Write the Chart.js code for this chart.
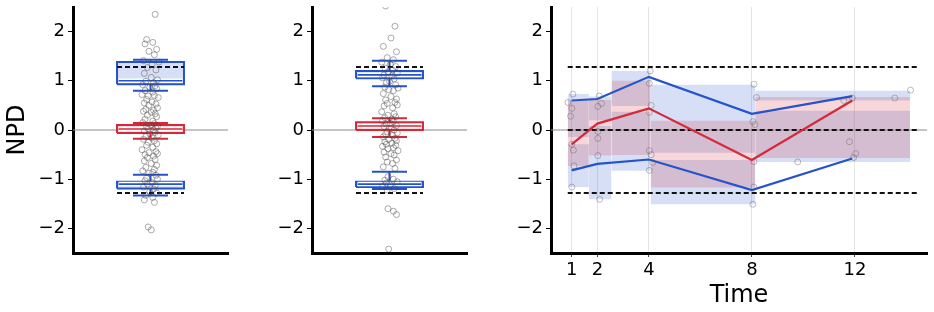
<!DOCTYPE html>
<html><head><meta charset="utf-8">
<script src="https://cdn.jsdelivr.net/npm/chart.js@4.4.1/dist/chart.umd.min.js"></script>
<style>
html,body{margin:0;padding:0;background:#fff;}
#wrap{position:relative;width:934px;height:312px;overflow:hidden;}
canvas{position:absolute;left:0;top:0;}
</style></head><body>
<div id="wrap">
<canvas id="c1" width="934" height="312"></canvas>
<canvas id="c2" width="934" height="312"></canvas>
<canvas id="c3" width="934" height="312"></canvas>
</div>
<script>
// ---------- data ----------
const yTicks = [-2, -1, 0, 1, 2];
const timeTicks = [1, 2, 4, 8, 12];
const refLevels = [-1.28, 0, 1.28];

// box stats: [lower whisker, q1, median, q3, upper whisker]
const p1UpperBox  = [0.80, 0.93, 1.00, 1.38, 1.43];
const p1MedianBox = [-0.18, -0.06, 0.02, 0.10, 0.14];
const p1LowerBox  = [-1.33, -1.19, -1.10, -1.05, -0.91];
const p2UpperBox  = [0.89, 1.05, 1.12, 1.20, 1.41];
const p2MedianBox = [-0.14, 0.00, 0.08, 0.16, 0.24];
const p2LowerBox  = [-1.20, -1.16, -1.10, -1.05, -0.85];

const p1PointY = [2.35,1.84,1.78,1.75,1.64,1.60,1.53,1.41,1.38,1.33,
  1.27,1.22,1.15,1.07,1.02,0.99,0.96,0.92,0.90,0.87,
  0.84,0.80,0.77,0.72,0.70,0.69,0.66,0.62,0.57,0.55,
  0.53,0.50,0.45,0.42,0.40,0.38,0.36,0.33,0.30,0.27,
  0.22,0.18,0.15,0.13,0.10,0.08,0.06,0.04,0.02,0.00,
  -0.02,-0.05,-0.08,-0.10,-0.13,-0.16,-0.19,-0.22,-0.25,-0.28,
  -0.31,-0.35,-0.40,-0.44,-0.46,-0.48,-0.50,-0.53,-0.56,-0.60,
  -0.63,-0.68,-0.72,-0.76,-0.80,-0.83,-0.86,-0.88,-0.92,-0.97,
  -1.00,-1.03,-1.07,-1.10,-1.13,-1.16,-1.20,-1.25,-1.28,-1.33,
  -1.37,-1.42,-1.47,-1.97,-2.03];
const p1PointDx = [0.06,-0.05,0.03,-0.07,0.08,-0.02,0.05,-0.09,0.11,0.02,
  -0.04,0.07,-0.08,0.01,0.09,-0.06,0.04,-0.10,0.06,-0.01,
  0.08,-0.07,0.03,-0.11,0.05,-0.03,0.10,-0.05,0.02,-0.08,
  0.07,-0.02,0.09,-0.06,0.04,-0.09,0.01,0.06,-0.04,0.08,
  -0.07,0.03,-0.10,0.05,0.00,0.09,-0.05,0.07,-0.03,0.04,
  -0.08,0.06,-0.01,0.10,-0.06,0.02,-0.09,0.05,-0.03,0.08,
  -0.05,0.03,-0.11,0.07,-0.02,0.09,-0.07,0.04,-0.04,0.06,
  -0.08,0.01,0.08,-0.06,0.05,-0.10,0.03,-0.02,0.07,-0.05,
  0.09,-0.07,0.02,-0.04,0.06,-0.09,0.04,-0.01,0.08,-0.06,
  0.03,-0.08,0.05,-0.03,0.01];

const p2PointY = [2.52,2.11,1.87,1.70,1.59,1.47,1.43,1.38,1.33,1.29,
  1.26,1.22,1.18,1.16,1.12,1.10,1.06,1.04,0.99,0.96,
  0.92,0.87,0.85,0.82,0.80,0.74,0.68,0.63,0.61,0.56,
  0.54,0.51,0.49,0.45,0.37,0.33,0.30,0.27,0.25,0.22,
  0.19,0.17,0.14,0.12,0.09,0.07,0.03,0.00,-0.03,-0.06,
  -0.08,-0.11,-0.14,-0.17,-0.19,-0.22,-0.24,-0.27,-0.29,-0.31,
  -0.33,-0.36,-0.38,-0.42,-0.45,-0.48,-0.51,-0.55,-0.61,-0.65,
  -0.68,-0.75,-0.78,-0.95,-1.00,-1.02,-1.05,-1.08,-1.12,-1.15,
  -1.19,-1.22,-1.60,-1.65,-1.72,-2.42];
const p2PointDx = [-0.05,0.07,0.02,-0.08,0.09,-0.03,0.05,-0.10,0.01,0.08,
  -0.06,0.04,-0.02,0.10,-0.07,0.03,-0.09,0.06,0.00,-0.04,
  0.08,-0.06,0.11,-0.01,0.05,-0.08,0.02,0.09,-0.05,0.07,
  -0.03,0.10,-0.07,0.04,-0.10,0.06,-0.02,0.08,-0.06,0.03,
  -0.09,0.05,0.01,-0.04,0.09,-0.07,0.02,0.06,-0.03,0.10,
  -0.05,0.04,-0.08,0.07,-0.01,0.09,-0.06,0.03,-0.04,0.08,
  -0.09,0.05,-0.02,0.11,-0.07,0.02,0.06,-0.05,0.09,-0.03,
  0.04,-0.08,0.07,-0.02,0.05,-0.06,0.10,-0.04,0.01,-0.09,
  0.06,-0.03,-0.02,0.05,0.09,-0.01];

// panel 3: bins and bands
const binEdges     = [0.85, 1.67, 2.55, 4.07, 8.13, 14.14];
const upperBandLo  = [-0.14, 0.20, 0.49, -0.46, 0.60];
const upperBandHi  = [0.73, 0.68, 1.20, 0.92, 0.80];
const medianBandLo = [-0.73, -0.52, -0.51, -1.17, -0.57];
const medianBandHi = [0.60, 0.61, 1.00, 0.19, 0.67];
const lowerBandLo  = [-1.16, -1.41, -0.83, -1.51, -0.65];
const lowerBandHi  = [-0.29, 0.08, 0.37, -0.61, 0.39];

const lineTimes   = [1, 2, 4, 8, 11.9];
const upperLine   = [0.60, 0.63, 1.08, 0.33, 0.69];
const medianLine  = [-0.29, 0.13, 0.44, -0.61, 0.60];
const lowerLine   = [-0.82, -0.69, -0.60, -1.22, -0.58];
const refLineSpan = [0.85, 14.5];

const p3PointT = [0.86,1.05,1.01,0.96,1.01,1.07,1.09,1.01,
  2.07,2.02,2.16,2.02,2.02,2.02,2.09,
  4.05,4.02,4.09,4.02,4.02,4.09,4.15,4.02,
  8.08,8.18,8.04,8.12,8.08,8.08,8.04,
  9.78,11.57,11.90,11.79,11.95,12.03,13.55,14.16];
const p3PointY = [0.56,0.73,0.44,0.28,-0.29,-0.41,-0.73,-1.16,
  0.69,0.48,0.54,-0.03,-0.17,-0.52,-1.41,
  1.20,0.95,0.50,0.36,-0.42,-0.50,-0.66,-0.82,
  0.93,0.66,0.17,0.11,-0.64,-1.16,-1.51,
  -0.65,0.60,0.65,-0.24,-0.56,-0.48,0.65,0.81];

// ---------- style ----------
const BLUE = '#2553cb', RED = '#d62839';
const BLUE_FILL = 'rgba(37,83,203,0.19)', RED_FILL = 'rgba(214,40,57,0.19)';
const PT = 'rgba(70,70,70,0.45)';
const FONT = 'DejaVu Sans';
const BW = 0.432, CW = 0.226;
const fmt = v => v < 0 ? '\u2212' + Math.abs(v) : String(v);

function yScale(width, withTitle) {
  return {
    type: 'linear', min: -2.5, max: 2.5,
    afterBuildTicks: s => { s.ticks = yTicks.map(v => ({value: v})); },
    afterFit: s => { s.width = width; s.paddingTop = 0; s.paddingBottom = 0; },
    ticks: {callback: fmt, font: {family: FONT, size: 18}, color: '#000', padding: 3},
    grid: {display: true, drawOnChartArea: false, drawTicks: true, tickLength: 5, tickColor: '#000', tickWidth: 1},
    border: {display: true, color: '#000', width: 3},
    title: {display: withTitle, text: 'NPD', color: '#000', font: {family: FONT, size: 24}, padding: {top: 3, bottom: 0}}
  };
}

function boxSets(stats, color, fillColor) {
  const [lo, q1, med, q3, hi] = stats;
  const gap = {x: 0, y: null};
  return [
    {data: [{x: -BW, y: q3}, {x: BW, y: q3}], fill: {value: q1}, backgroundColor: fillColor, borderColor: 'rgba(0,0,0,0)', borderWidth: 1, order: 9},
    {data: [{x: -BW, y: q1}, {x: BW, y: q1}, {x: BW, y: q3}, {x: -BW, y: q3}, {x: -BW, y: q1}, gap,
            {x: 0, y: q3}, {x: 0, y: hi}, gap, {x: 0, y: q1}, {x: 0, y: lo}, gap,
            {x: -CW, y: hi}, {x: CW, y: hi}, gap, {x: -CW, y: lo}, {x: CW, y: lo}],
     borderColor: color, borderWidth: 2, order: 7},
    {data: [{x: -BW + 0.02, y: med}, {x: BW - 0.02, y: med}], borderColor: '#fff', borderWidth: 4.5, order: 6},
    {data: [{x: -BW + 0.02, y: med}, {x: BW - 0.02, y: med}], borderColor: color, borderWidth: 1.6, order: 5}
  ];
}

function boxPanel(id, padLeft, yWidth, padRight, upper, median, lower, ptsY, ptsDx, withTitle) {
  const datasets = [
    {data: ptsY.map((y, i) => ({x: ptsDx[i], y})), showLine: false, pointRadius: 3, pointBorderWidth: 1,
     pointBackgroundColor: 'rgba(0,0,0,0)', pointBorderColor: PT, order: 1},
    {data: [{x: -1, y: 0}, {x: 1, y: 0}], borderColor: '#8a8a8a', borderWidth: 1.2, order: 12},
    {data: [{x: -BW, y: refLevels[2]}, {x: BW, y: refLevels[2]}, {x: 0, y: null}, {x: -BW, y: refLevels[0]}, {x: BW, y: refLevels[0]}],
     borderColor: '#111', borderWidth: 1.8, borderDash: [5, 3], order: 3},
    ...boxSets(upper, BLUE, BLUE_FILL),
    ...boxSets(median, RED, RED_FILL),
    ...boxSets(lower, BLUE, BLUE_FILL)
  ];
  datasets.forEach(d => { d.pointRadius = d.pointRadius || 0; d.spanGaps = false; if (d.fill === undefined) d.fill = false; });
  return new Chart(document.getElementById(id), {
    type: 'line',
    data: {datasets},
    options: {
      responsive: false, animation: false, events: [],
      layout: {padding: {left: padLeft, right: padRight, top: 7, bottom: 0}},
      plugins: {legend: {display: false}, tooltip: {enabled: false}},
      scales: {
        x: {type: 'linear', min: -1, max: 1,
            afterFit: s => { s.height = 59; s.paddingLeft = 0; s.paddingRight = 0; },
            ticks: {display: false},
            grid: {display: true, drawOnChartArea: false, drawTicks: false},
            border: {display: true, color: '#000', width: 3}},
        y: yScale(yWidth, withTitle)
      }
    }
  });
}

boxPanel('c1', 0, 73, 934 - 228, p1UpperBox, p1MedianBox, p1LowerBox, p1PointY, p1PointDx, true);
boxPanel('c2', 240, 72, 934 - 467, p2UpperBox, p2MedianBox, p2LowerBox, p2PointY, p2PointDx, false);

// ---------- panel 3 ----------
function bandSets(lo, hi, fillColor, order) {
  return lo.map((l, i) => ({
    data: [{x: binEdges[i], y: hi[i]}, {x: binEdges[i + 1], y: hi[i]}],
    fill: {value: l}, backgroundColor: fillColor, borderColor: 'rgba(0,0,0,0)', borderWidth: 1, order
  }));
}
const p3Sets = [
  {data: p3PointT.map((t, i) => ({x: t, y: p3PointY[i]})), showLine: false, pointRadius: 3, pointBorderWidth: 1,
   pointBackgroundColor: 'rgba(0,0,0,0)', pointBorderColor: 'rgba(90,90,90,0.4)', order: 1},
  {data: lineTimes.map((t, i) => ({x: t, y: upperLine[i]})), borderColor: BLUE, borderWidth: 2.2, order: 2},
  {data: lineTimes.map((t, i) => ({x: t, y: medianLine[i]})), borderColor: RED, borderWidth: 2.2, order: 2},
  {data: lineTimes.map((t, i) => ({x: t, y: lowerLine[i]})), borderColor: BLUE, borderWidth: 2.2, order: 2},
  ...refLevels.map(v => ({data: [{x: refLineSpan[0], y: v}, {x: refLineSpan[1], y: v}], borderColor: '#111', borderWidth: 1.8, borderDash: [5, 3], order: 3})),
  {data: [{x: 0.2, y: 0}, {x: 14.8, y: 0}], borderColor: '#8a8a8a', borderWidth: 1.2, order: 4},
  ...bandSets(medianBandLo, medianBandHi, RED_FILL, 6),
  ...bandSets(upperBandLo, upperBandHi, BLUE_FILL, 7),
  ...bandSets(lowerBandLo, lowerBandHi, BLUE_FILL, 7)
];
p3Sets.forEach(d => { d.pointRadius = d.pointRadius || 0; if (d.fill === undefined) d.fill = false; });

new Chart(document.getElementById('c3'), {
  type: 'line',
  data: {datasets: p3Sets},
  options: {
    responsive: false, animation: false, events: [],
    layout: {padding: {left: 460, right: 7, top: 7, bottom: 0}},
    plugins: {legend: {display: false}, tooltip: {enabled: false}},
    scales: {
      x: {type: 'linear', min: 0.2, max: 14.8,
          afterBuildTicks: s => { s.ticks = timeTicks.map(v => ({value: v})); },
          afterFit: s => { s.height = 59; s.paddingLeft = 0; s.paddingRight = 0; },
          ticks: {font: {family: FONT, size: 18}, color: '#000', padding: 3, maxRotation: 0, autoSkip: false},
          grid: {display: true, drawOnChartArea: true, color: '#e4e4e4', lineWidth: 1, drawTicks: true, tickLength: 4, tickColor: '#444', tickWidth: 1},
          border: {display: true, color: '#000', width: 3},
          title: {display: true, text: 'Time', color: '#000', font: {family: FONT, size: 24}, padding: {top: 0, bottom: 2}}},
      y: yScale(91, false)
    }
  }
});
</script>
</body></html>
